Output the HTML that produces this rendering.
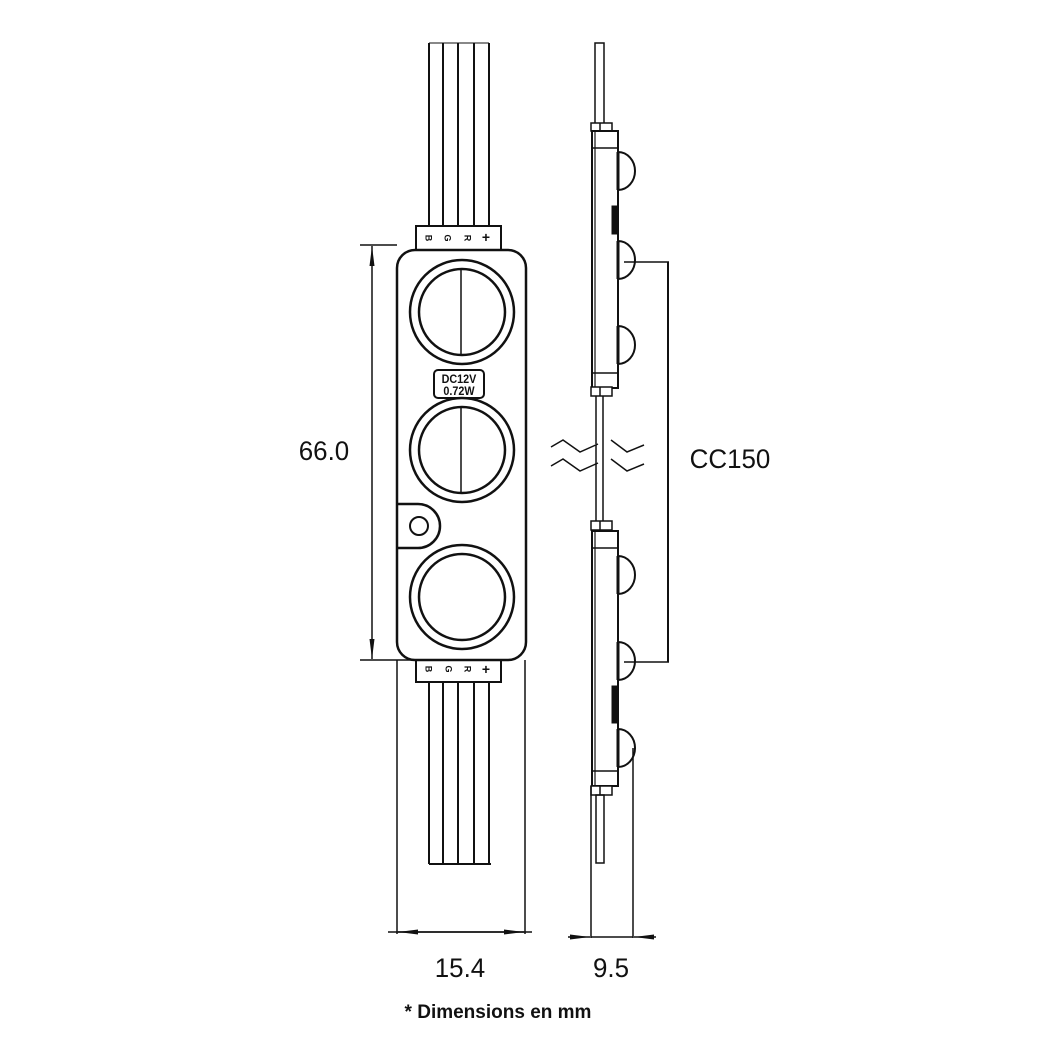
<!DOCTYPE html>
<html><head><meta charset="utf-8"><style>
html,body{margin:0;padding:0;background:#fff;}
svg{display:block;}
text{font-family:"Liberation Sans",sans-serif;fill:#111;}
</style></head><body>
<svg width="1040" height="1040" viewBox="0 0 1040 1040" xmlns="http://www.w3.org/2000/svg">
<defs>
<marker id="ar" viewBox="0 0 20 8" refX="20" refY="4" markerWidth="20" markerHeight="8" markerUnits="userSpaceOnUse" orient="auto-start-reverse"><path d="M0,1.5 L20,4 L0,6.5z" fill="#111"/></marker>
</defs>
<g stroke="#111" fill="none" stroke-width="2">
<line x1="429" y1="43" x2="429" y2="226"/>
<line x1="443" y1="43" x2="443" y2="226"/>
<line x1="458" y1="43" x2="458" y2="226"/>
<line x1="474" y1="43" x2="474" y2="226"/>
<line x1="489" y1="43" x2="489" y2="226"/>
<line x1="429" y1="43" x2="489" y2="43" stroke-width="1"/>
<line x1="429" y1="682" x2="429" y2="864"/>
<line x1="443" y1="682" x2="443" y2="864"/>
<line x1="458" y1="682" x2="458" y2="864"/>
<line x1="474" y1="682" x2="474" y2="864"/>
<line x1="489" y1="682" x2="489" y2="864"/>
<line x1="429" y1="864" x2="491" y2="864"/>
<rect x="416" y="226" width="85" height="24" fill="#fff"/>
<rect x="416" y="659" width="85" height="23" fill="#fff"/>
<rect x="397" y="250" width="129" height="410" rx="18" fill="#fff" stroke-width="2.5"/>
<circle cx="462" cy="312" r="52" stroke-width="2.5"/>
<circle cx="462" cy="312" r="43" stroke-width="2.5"/>
<line x1="461" y1="269" x2="461" y2="355" stroke-width="1.5"/>
<circle cx="462" cy="450" r="52" stroke-width="2.5"/>
<circle cx="462" cy="450" r="43" stroke-width="2.5"/>
<line x1="461" y1="407" x2="461" y2="493" stroke-width="1.5"/>
<circle cx="462" cy="597" r="52" stroke-width="2.5"/>
<circle cx="462" cy="597" r="43" stroke-width="2.5"/>
<rect x="434" y="370" width="50" height="28" rx="4"/>
<path d="M398,504 L418,504 A22,22 0 0 1 418,548 L398,548" stroke-width="2.5"/>
<circle cx="419" cy="526" r="9"/>
<line x1="360" y1="245" x2="397" y2="245" stroke-width="1.5"/>
<line x1="360" y1="660" x2="430" y2="660" stroke-width="1.5"/>
<line x1="372" y1="246" x2="372" y2="659" stroke-width="1.5" marker-start="url(#ar)" marker-end="url(#ar)"/>
<line x1="397" y1="660" x2="397" y2="934" stroke-width="1.5"/>
<line x1="525" y1="660" x2="525" y2="934" stroke-width="1.5"/>
<line x1="388" y1="932" x2="532" y2="932" stroke-width="1.5"/>
<line x1="398" y1="932" x2="524" y2="932" stroke-width="1.5" marker-start="url(#ar)" marker-end="url(#ar)"/>

<rect x="595" y="43" width="9" height="82" stroke-width="1.5"/>
<rect x="591" y="123" width="21" height="8" fill="#fff" stroke-width="1.5"/>
<line x1="600" y1="123" x2="600" y2="131" stroke-width="1.5"/>
<rect x="592" y="131" width="26" height="257" fill="#fff" stroke-width="2"/>
<line x1="595" y1="131" x2="595" y2="388" stroke-width="1.2"/>
<line x1="592" y1="148" x2="618" y2="148" stroke-width="1.5"/>
<line x1="592" y1="373" x2="618" y2="373" stroke-width="1.5"/>
<rect x="591" y="387" width="21" height="9" fill="#fff" stroke-width="1.5"/>
<line x1="600" y1="387" x2="600" y2="396" stroke-width="1.5"/>
<path d="M618,152 A17,19 0 0 1 618,190" />
<path d="M618,241 A17,19 0 0 1 618,279" />
<path d="M618,326 A17,19 0 0 1 618,364" />
<line x1="618" y1="152" x2="618" y2="190" stroke-width="3"/>
<line x1="618" y1="241" x2="618" y2="279" stroke-width="3"/>
<line x1="618" y1="326" x2="618" y2="364" stroke-width="3"/>
<rect x="612" y="206" width="6" height="28" fill="#111" stroke-width="1"/>
<line x1="596" y1="396" x2="596" y2="522" stroke-width="1.5"/>
<line x1="603" y1="396" x2="603" y2="522" stroke-width="1.5"/>
<path d="M551,447 L563,440 L580,452 L598,444" fill="#fff" stroke-width="1.5"/>
<path d="M611,440 L627,452 L644,445" stroke-width="1.5"/>
<path d="M551,466 L563,459 L580,471 L598,463" stroke-width="1.5"/>
<path d="M611,459 L627,471 L644,464" stroke-width="1.5"/>
<rect x="591" y="521" width="21" height="9" fill="#fff" stroke-width="1.5"/>
<line x1="600" y1="521" x2="600" y2="530" stroke-width="1.5"/>
<rect x="592" y="531" width="26" height="255" fill="#fff" stroke-width="2"/>
<line x1="595" y1="531" x2="595" y2="786" stroke-width="1.2"/>
<line x1="592" y1="548" x2="618" y2="548" stroke-width="1.5"/>
<line x1="592" y1="771" x2="618" y2="771" stroke-width="1.5"/>
<rect x="591" y="786" width="21" height="9" fill="#fff" stroke-width="1.5"/>
<line x1="600" y1="786" x2="600" y2="795" stroke-width="1.5"/>
<rect x="596" y="795" width="8" height="68" stroke-width="1.5"/>
<path d="M618,556 A17,19 0 0 1 618,594" />
<path d="M618,642 A17,19 0 0 1 618,680" />
<path d="M618,729 A17,19 0 0 1 618,767" />
<line x1="618" y1="556" x2="618" y2="594" stroke-width="3"/>
<line x1="618" y1="642" x2="618" y2="680" stroke-width="3"/>
<line x1="618" y1="729" x2="618" y2="767" stroke-width="3"/>
<rect x="612" y="686" width="6" height="37" fill="#111" stroke-width="1"/>
<line x1="624" y1="262" x2="669" y2="262" stroke-width="1.5"/>
<line x1="624" y1="662" x2="669" y2="662" stroke-width="1.5"/>
<line x1="668" y1="262" x2="668" y2="662" stroke-width="2"/>
<line x1="591" y1="786" x2="591" y2="938" stroke-width="1.5"/>
<line x1="633" y1="748" x2="633" y2="938" stroke-width="1.5"/>
<line x1="568" y1="937" x2="590" y2="937" stroke-width="1.5" marker-end="url(#ar)"/>
<line x1="591" y1="937" x2="633" y2="937" stroke-width="1.5"/>
<line x1="656" y1="937" x2="634" y2="937" stroke-width="1.5" marker-end="url(#ar)"/>
</g>
<g font-size="9" font-weight="bold">
<text transform="translate(428,238) rotate(90)" text-anchor="middle" dominant-baseline="middle">B</text>
<text transform="translate(447,238) rotate(90)" text-anchor="middle" dominant-baseline="middle">G</text>
<text transform="translate(467,238) rotate(90)" text-anchor="middle" dominant-baseline="middle">R</text>
<text x="486" y="242" text-anchor="middle" font-size="14">+</text>
<text transform="translate(428,669) rotate(90)" text-anchor="middle" dominant-baseline="middle">B</text>
<text transform="translate(448,669) rotate(90)" text-anchor="middle" dominant-baseline="middle">G</text>
<text transform="translate(467,669) rotate(90)" text-anchor="middle" dominant-baseline="middle">R</text>
<text x="486" y="674" text-anchor="middle" font-size="14">+</text>
</g>
<text x="459" y="383" text-anchor="middle" font-size="12" font-weight="bold" transform="translate(459,0) scale(0.9,1) translate(-459,0)">DC12V</text>
<text x="459" y="395" text-anchor="middle" font-size="12" font-weight="bold" transform="translate(459,0) scale(0.9,1) translate(-459,0)">0.72W</text>
<text x="324" y="460" text-anchor="middle" font-size="27" transform="translate(324,0) scale(0.96,1) translate(-324,0)">66.0</text>
<text x="730" y="468" text-anchor="middle" font-size="27" transform="translate(730,0) scale(0.96,1) translate(-730,0)">CC150</text>
<text x="460" y="977" text-anchor="middle" font-size="27" transform="translate(460,0) scale(0.96,1) translate(-460,0)">15.4</text>
<text x="611" y="977" text-anchor="middle" font-size="27" transform="translate(611,0) scale(0.96,1) translate(-611,0)">9.5</text>
<text x="498" y="1018" text-anchor="middle" font-size="19" font-weight="bold">* Dimensions en mm</text>
</svg>
</body></html>
